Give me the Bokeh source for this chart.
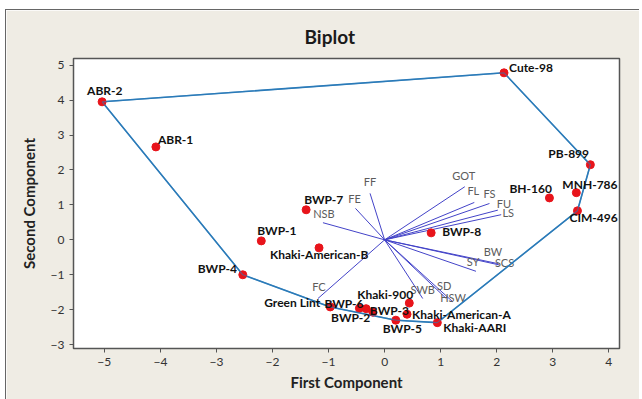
from bokeh.plotting import figure
from bokeh.models import ColumnDataSource, FixedTicker
from bokeh.core.properties import value
from bokeh.embed import file_html
from bokeh.resources import INLINE

# ---- data ----
genotypes = ["ABR-2", "Cute-98", "PB-899", "MNH-786", "CIM-496", "BH-160", "BWP-8",
             "ABR-1", "BWP-7", "BWP-1", "Khaki-American-B", "BWP-4", "Green Lint",
             "BWP-6", "BWP-2", "BWP-3", "Khaki-900", "Khaki-American-A", "BWP-5", "Khaki-AARI"]
pc1 = [-5.04, 2.13, 3.67, 3.42, 3.44, 2.94, 0.83,
       -4.08, -1.40, -2.20, -1.17, -2.53, -0.97,
       -0.45, -0.33, -0.21, 0.44, 0.40, 0.20, 0.94]
pc2 = [3.95, 4.78, 2.15, 1.35, 0.83, 1.20, 0.20,
       2.66, 0.86, -0.03, -0.23, -1.00, -1.92,
       -1.96, -1.97, -2.07, -1.81, -2.13, -2.30, -2.37]

traits = ["FF", "FE", "NSB", "GOT", "FL", "FS", "FU", "LS", "BW", "SCS", "SY",
          "SWB", "SD", "HSW", "FC"]
load1 = [-0.26, -0.52, -1.10, 1.43, 1.60, 1.87, 2.02, 2.08, 2.02, 2.05, 1.63,
         0.68, 1.10, 1.22, -1.19]
load2 = [1.33, 0.90, 0.49, 1.52, 1.07, 1.04, 0.85, 0.72, -0.68, -0.72, -0.90,
         -1.68, -1.68, -1.78, -1.68]

x_ticks = [-5, -4, -3, -2, -1, 0, 1, 2, 3, 4]
y_ticks = [-3, -2, -1, 0, 1, 2, 3, 4, 5]

# ---- label placement (screen pixels) ----
pt_dx = [-15, 5, -42, -14, -8, -40, 11, 2, -2, -4, -49, -45, -66, -35, -35, -3, -52, 5, -13, 6]
pt_dy = [-11, -5, -11, -8, 7, -9, -1, -7, -10, -10, 7, -6, -4, -5, 9, -2, -9, 0, 8, 5]
tr_dx = [0, -1, 1, -1, -1, 0, 6, 7, -5, 5, -3, 0, -2, 0, 1]
tr_dy = [-12, -10, -9, -11, -12, -10, -7, -2, -12, -2, -10, -9, -13, -5, -12]

# ---- convex hull of the genotype scores ----
def hull(xs, ys):
    pts = sorted(set(zip(xs, ys)))
    def cross(o, a, b):
        return (a[0]-o[0])*(b[1]-o[1]) - (a[1]-o[1])*(b[0]-o[0])
    lower, upper = [], []
    for pt in pts:
        while len(lower) >= 2 and cross(lower[-2], lower[-1], pt) <= 0:
            lower.pop()
        lower.append(pt)
    for pt in reversed(pts):
        while len(upper) >= 2 and cross(upper[-2], upper[-1], pt) <= 0:
            upper.pop()
        upper.append(pt)
    h = lower[:-1] + upper[:-1]
    h.append(h[0])
    return [q[0] for q in h], [q[1] for q in h]

hx, hy = hull(pc1, pc2)

BG = "#EFECE4"
p = figure(width=634, height=390, x_range=(-5.55, 4.19), y_range=(-3.11, 5.19),
           output_backend="svg", toolbar_location=None,
           min_border_left=67, min_border_right=21, min_border_top=48, min_border_bottom=52,
           background_fill_color="white", border_fill_color=BG,
           outline_line_color="#555555", outline_line_width=1.5)
p.margin = (9, 0, 0, 5)
p.styles = {"border-top": "1px solid #666666", "border-left": "1px solid #666666"}

p.title.text = "Biplot"
p.title.align = "left"
p.title.offset = 231
p.title.text_font = "Lato"
p.title.text_font_size = "19px"
p.title.text_font_style = "bold"
p.title.text_color = "#1a1a1a"
p.title.standoff = 22

p.xgrid.visible = False
p.ygrid.visible = False

for ax, ticks in ((p.xaxis[0], x_ticks), (p.yaxis[0], y_ticks)):
    ax.ticker = FixedTicker(ticks=ticks)
    ax.minor_tick_line_color = None
    ax.major_tick_out = 4
    ax.major_tick_in = 0
    ax.axis_line_color = "#555555"
    ax.major_tick_line_color = "#555555"
    ax.major_label_text_font = "Lato"
    ax.major_label_text_font_size = "12px"
    ax.major_label_text_color = "#333333"
    ax.axis_label_text_font = "Lato"
    ax.axis_label_text_font_size = "15px"
    ax.axis_label_text_font_style = "bold"
    ax.axis_label_text_color = "#222222"
p.xaxis.axis_label = "First Component"
p.yaxis.axis_label = "Second Component"
p.xaxis.axis_label_standoff = 4
p.yaxis.axis_label_standoff = 10

# vectors
n = len(traits)
vec = ColumnDataSource(dict(x0=[0.0]*n, y0=[0.0]*n, x1=load1, y1=load2,
                            name=traits, dx=tr_dx, dy=tr_dy))
p.segment("x0", "y0", "x1", "y1", source=vec, line_color="#4343c8", line_width=1.0)
p.text("x1", "y1", text="name", source=vec, x_offset="dx", y_offset="dy",
       text_align="center", text_baseline="middle", text_color="#5c5c5c",
       text_font=value("Lato"), text_font_size="11px")

# hull
p.line(hx, hy, line_color="#2b7bb9", line_width=1.6)

# scores
src = ColumnDataSource(dict(x=pc1, y=pc2, name=genotypes, dx=pt_dx, dy=pt_dy))
p.scatter("x", "y", source=src, size=8, fill_color="#e8141b", line_color="#e8141b")
p.line(hx, hy, line_color="#2b7bb9", line_width=1.2, line_alpha=0.6)
p.text("x", "y", text="name", source=src, x_offset="dx", y_offset="dy",
       text_align="left", text_baseline="middle", text_color="#111111",
       text_font=value("Lato"), text_font_size="12px", text_font_style="bold")

open("out.html", "w").write(file_html(p, INLINE))
